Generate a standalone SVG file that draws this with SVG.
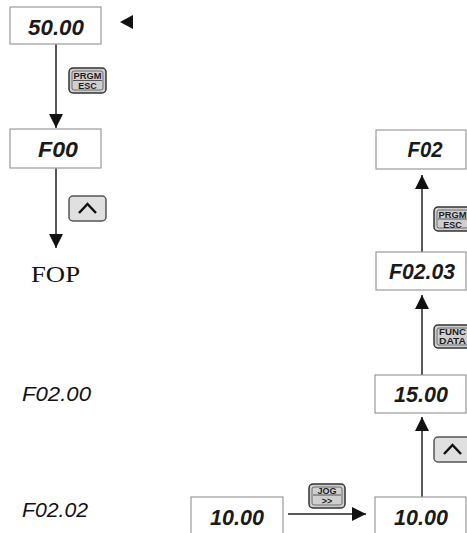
<svg xmlns="http://www.w3.org/2000/svg" width="467" height="533" viewBox="0 0 467 533">
<style>
.box{fill:#fff;stroke:#9a9a9a;stroke-width:1.2}
.disp{font-family:"Liberation Sans",Arial,sans-serif;font-weight:bold;font-style:italic;font-size:22px;fill:#1a1a1a;text-anchor:middle}
.btn{fill:#cfcfcf;stroke:#333;stroke-width:1.5}
.btn2{fill:#e0e0e0;stroke:#555;stroke-width:1.5}
.bt{font-family:"Liberation Sans",Arial,sans-serif;font-weight:bold;font-size:9px;fill:#222;text-anchor:middle}
.line{stroke:#222;stroke-width:1.5;fill:none}
.lbl{font-family:"Liberation Sans",Arial,sans-serif;font-style:italic;font-size:21px;fill:#111}
</style>
<defs>
<marker id="ah" viewBox="0 0 14 14" refX="14" refY="7" markerWidth="14" markerHeight="14" markerUnits="userSpaceOnUse" orient="auto">
<path d="M0,0 L14,7 L0,14 Z" fill="#111"/>
</marker>
</defs>

<g id="connectors">
<line class="line" x1="56" y1="44" x2="56" y2="128" marker-end="url(#ah)"/>
<line class="line" x1="56" y1="168" x2="56" y2="248" marker-end="url(#ah)"/>
<line class="line" x1="422" y1="252" x2="422" y2="175" marker-end="url(#ah)"/>
<line class="line" x1="422" y1="375" x2="422" y2="295" marker-end="url(#ah)"/>
<line class="line" x1="422" y1="497" x2="422" y2="417" marker-end="url(#ah)"/>
<line class="line" x1="288" y1="514" x2="366" y2="514" marker-end="url(#ah)"/>
<polygon points="120,22 133,15 133,29" fill="#111"/>
</g>

<g id="n-5000"><rect class="box" x="10" y="7" width="91" height="37"/><text class="disp" x="56" y="35" textLength="56" lengthAdjust="spacingAndGlyphs">50.00</text></g>
<g id="n-F00"><rect class="box" x="10" y="129" width="91" height="39"/><text class="disp" x="58" y="157" textLength="40" lengthAdjust="spacingAndGlyphs">F00</text></g>
<g id="n-FOP"><text x="31" y="282" font-family="'Liberation Serif','Times New Roman',serif" font-size="24" fill="#111" textLength="49" lengthAdjust="spacingAndGlyphs">FOP</text></g>
<g id="n-F0200"><text class="lbl" x="22" y="401" textLength="69" lengthAdjust="spacingAndGlyphs">F02.00</text></g>
<g id="n-F0202"><text class="lbl" x="22" y="517" textLength="66" lengthAdjust="spacingAndGlyphs">F02.02</text></g>

<g id="n-F02"><rect class="box" x="376" y="130" width="90" height="39"/><text class="disp" x="425" y="157" textLength="35" lengthAdjust="spacingAndGlyphs">F02</text></g>
<g id="n-F0203"><rect class="box" x="376" y="252" width="90" height="38"/><text class="disp" x="422" y="279" textLength="66" lengthAdjust="spacingAndGlyphs">F02.03</text></g>
<g id="n-1500"><rect class="box" x="375" y="375" width="91" height="38"/><text class="disp" x="421" y="402" textLength="54" lengthAdjust="spacingAndGlyphs">15.00</text></g>
<g id="n-1000r"><rect class="box" x="375" y="497" width="91" height="40"/><text class="disp" x="421" y="525" textLength="54" lengthAdjust="spacingAndGlyphs">10.00</text></g>
<g id="n-1000l"><rect class="box" x="191" y="497" width="92" height="40"/><text class="disp" x="237" y="525" textLength="54" lengthAdjust="spacingAndGlyphs">10.00</text></g>

<g id="b-prgm1"><rect class="btn" x="69" y="68" width="37" height="25" rx="4"/><rect x="72" y="71" width="31" height="19" rx="2" fill="none" stroke="#555" stroke-width="0.8"/><line x1="73" y1="80.5" x2="102" y2="80.5" stroke="#333" stroke-width="0.8"/><text class="bt" x="87.5" y="79" textLength="28" lengthAdjust="spacingAndGlyphs">PRGM</text><text class="bt" x="87.5" y="89">ESC</text></g>
<g id="b-up1"><rect class="btn2" x="69" y="196" width="37" height="25" rx="4"/><path d="M79,213 L87.5,204 L96,213" fill="none" stroke="#111" stroke-width="2.5"/></g>
<g id="b-prgm2"><rect class="btn" x="434" y="207" width="37" height="24" rx="4"/><rect x="437" y="210" width="31" height="18" rx="2" fill="none" stroke="#555" stroke-width="0.8"/><line x1="438" y1="219" x2="467" y2="219" stroke="#333" stroke-width="0.8"/><text class="bt" x="452.5" y="217.5" textLength="28" lengthAdjust="spacingAndGlyphs">PRGM</text><text class="bt" x="452.5" y="227.5">ESC</text></g>
<g id="b-func"><rect class="btn" x="434" y="325" width="37" height="23" rx="4"/><rect x="437" y="328" width="31" height="17" rx="2" fill="none" stroke="#555" stroke-width="0.8"/><text class="bt" x="452.5" y="335" font-size="7.5" textLength="27" lengthAdjust="spacingAndGlyphs">FUNC</text><text class="bt" x="452.5" y="343.5" font-size="7.5" textLength="27" lengthAdjust="spacingAndGlyphs">DATA</text></g>
<g id="b-up2"><rect class="btn2" x="434" y="437" width="37" height="25" rx="4"/><path d="M444,454 L452.5,445 L461,454" fill="none" stroke="#111" stroke-width="2.5"/></g>
<g id="b-jog"><rect class="btn" x="309" y="484" width="36" height="24" rx="4"/><rect x="312" y="487" width="30" height="18" rx="2" fill="none" stroke="#555" stroke-width="0.8"/><line x1="313" y1="495" x2="341" y2="495" stroke="#333" stroke-width="0.8"/><text class="bt" x="327" y="494">JOG</text><text class="bt" x="327" y="504" font-size="11">&gt;&gt;</text></g>
</svg>
